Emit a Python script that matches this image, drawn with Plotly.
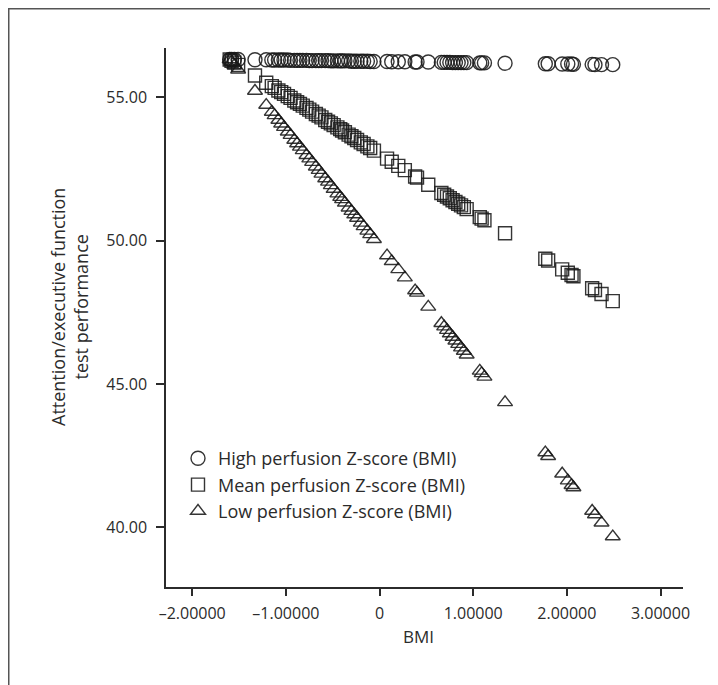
import plotly.graph_objects as go

# BMI z-scores (shared by all three predicted series)
bmi = [-1.60, -1.58, -1.55, -1.51, -1.33, -1.21, -1.15, -1.12, -1.08, -1.05,
       -1.02, -0.98, -0.95, -0.91, -0.88, -0.85, -0.82, -0.78, -0.75, -0.72,
       -0.68, -0.65, -0.62, -0.58, -0.55, -0.52, -0.49, -0.45, -0.42, -0.40,
       -0.37, -0.33, -0.30, -0.27, -0.24, -0.20, -0.17, -0.13, -0.10, -0.06,
       0.08, 0.13, 0.20, 0.27, 0.38, 0.40, 0.52, 0.66, 0.69, 0.72,
       0.75, 0.78, 0.81, 0.84, 0.87, 0.90, 0.93, 1.07, 1.09, 1.12,
       1.34, 1.77, 1.80, 1.95, 2.01, 2.05, 2.07, 2.27, 2.30, 2.37, 2.49]

high_perf = [56.32, 56.32, 56.32, 56.32, 56.31, 56.31, 56.30, 56.30, 56.30, 56.30,
             56.30, 56.30, 56.29, 56.29, 56.29, 56.29, 56.29, 56.29, 56.28, 56.28,
             56.28, 56.28, 56.28, 56.28, 56.28, 56.27, 56.27, 56.27, 56.27, 56.27,
             56.27, 56.27, 56.26, 56.26, 56.26, 56.26, 56.26, 56.26, 56.25, 56.25,
             56.25, 56.24, 56.24, 56.24, 56.23, 56.23, 56.23, 56.22, 56.22, 56.22,
             56.22, 56.21, 56.21, 56.21, 56.21, 56.21, 56.21, 56.20, 56.20, 56.20,
             56.19, 56.17, 56.17, 56.16, 56.16, 56.16, 56.15, 56.15, 56.14, 56.14, 56.14]

mean_perf = [56.32, 56.27, 56.21, 56.13, 55.76, 55.51, 55.39, 55.33, 55.24, 55.18,
             55.12, 55.04, 54.98, 54.89, 54.83, 54.77, 54.71, 54.63, 54.57, 54.50,
             54.42, 54.36, 54.30, 54.21, 54.15, 54.09, 54.03, 53.95, 53.89, 53.84,
             53.78, 53.70, 53.64, 53.58, 53.51, 53.43, 53.37, 53.29, 53.23, 53.14,
             52.86, 52.75, 52.61, 52.46, 52.24, 52.20, 51.95, 51.66, 51.60, 51.54,
             51.48, 51.41, 51.35, 51.29, 51.23, 51.17, 51.10, 50.82, 50.77, 50.71,
             50.26, 49.37, 49.31, 49.00, 48.88, 48.80, 48.76, 48.34, 48.28, 48.14, 47.89]

low_perf = [56.32, 56.24, 56.12, 55.96, 55.22, 54.73, 54.49, 54.37, 54.21, 54.08,
            53.96, 53.80, 53.68, 53.51, 53.39, 53.27, 53.15, 52.98, 52.86, 52.74,
            52.58, 52.46, 52.33, 52.17, 52.05, 51.93, 51.80, 51.64, 51.52, 51.44,
            51.32, 51.15, 51.03, 50.91, 50.79, 50.62, 50.50, 50.34, 50.22, 50.05,
            49.48, 49.28, 49.00, 48.71, 48.26, 48.18, 47.69, 47.12, 47.00, 46.88,
            46.76, 46.64, 46.51, 46.39, 46.27, 46.15, 46.02, 45.46, 45.37, 45.25,
            44.36, 42.61, 42.48, 41.87, 41.63, 41.47, 41.39, 40.57, 40.45, 40.16, 39.68]

series_names = ["High perfusion Z-score (BMI)",
                "Mean perfusion Z-score (BMI)",
                "Low perfusion Z-score (BMI)"]

x_tickvals = [-2, -1, 0, 1, 2, 3]
x_ticktext = ["\u20132.00000", "\u20131.00000", "0", "1.00000", "2.00000", "3.00000"]
y_tickvals = [40, 45, 50, 55]
y_ticktext = ["40.00", "45.00", "50.00", "55.00"]

FONT = "Open Sans"
INK = "#2b2b2b"
MARK = "rgba(25,25,25,0.88)"

fig = go.Figure()
specs = [(high_perf, "circle-open", 14), (mean_perf, "square-open", 13),
         (low_perf, "triangle-up-open", 13)]
for i, (vals, sym, sz) in enumerate(specs):
    fig.add_trace(go.Scatter(
        x=bmi, y=vals, mode="markers", name=series_names[i],
        legendgroup=f"g{i}",
        marker=dict(symbol=sym, size=sz, color=MARK, line=dict(width=1.4, color=MARK)),
    ))

# page has an 8px body margin; figure placed so plot area sits at page x 166-683, y 48-587
OFF = 8
W, H = 718 - OFF, 685 - OFF
L, R, T, B = 166 - OFF, 35, 48 - OFF, 98
pw, ph = W - L - R, H - T - B

def px2paper_x(px):  # px in page coordinates
    return (px - OFF - L) / pw

def px2paper_y(py):
    return (H - B - (py - OFF)) / ph

fig.update_layout(
    width=W, height=H,
    margin=dict(l=L, r=R, t=T, b=B),
    paper_bgcolor="white", plot_bgcolor="white",
    font=dict(family=FONT, size=16, color=INK),
    showlegend=True,
    legend=dict(x=px2paper_x(178), y=px2paper_y(440), xanchor="left", yanchor="top",
                bgcolor="rgba(0,0,0,0)", font=dict(family=FONT, size=18, color=INK),
                tracegroupgap=0, itemsizing="trace"),
    xaxis=dict(range=[-2.28, 3.24], tickvals=x_tickvals, ticktext=x_ticktext,
               showgrid=False, zeroline=False, showline=True, linecolor=INK, linewidth=1.5,
               ticks="outside", ticklen=7, tickwidth=1.5, tickcolor=INK,
               ticklabelstandoff=4, tickfont=dict(size=16)),
    yaxis=dict(range=[37.92, 56.72], tickvals=y_tickvals, ticktext=y_ticktext,
               showgrid=False, zeroline=False, showline=True, linecolor=INK, linewidth=1.5,
               ticks="outside", ticklen=8, tickwidth=1.5, tickcolor=INK,
               ticklabelstandoff=6, tickfont=dict(size=16)),
    annotations=[
        dict(text="Attention/executive function<br>test performance", textangle=-90,
             xref="paper", yref="paper", x=px2paper_x(69), y=px2paper_y(307),
             xanchor="center", yanchor="middle", showarrow=False,
             font=dict(family=FONT, size=18, color=INK)),
        dict(text="BMI", xref="paper", yref="paper", x=px2paper_x(418), y=px2paper_y(636),
             xanchor="center", yanchor="middle", showarrow=False,
             font=dict(family=FONT, size=17, color=INK)),
    ],
    shapes=[
        dict(type="rect", xref="paper", yref="paper",
             x0=px2paper_x(OFF + 0.75), x1=px2paper_x(740),
             y0=px2paper_y(720), y1=px2paper_y(OFF + 0.75),
             line=dict(color="#555555", width=1.5), fillcolor="rgba(0,0,0,0)", layer="below"),
    ],
)

fig.write_html("out.html")
